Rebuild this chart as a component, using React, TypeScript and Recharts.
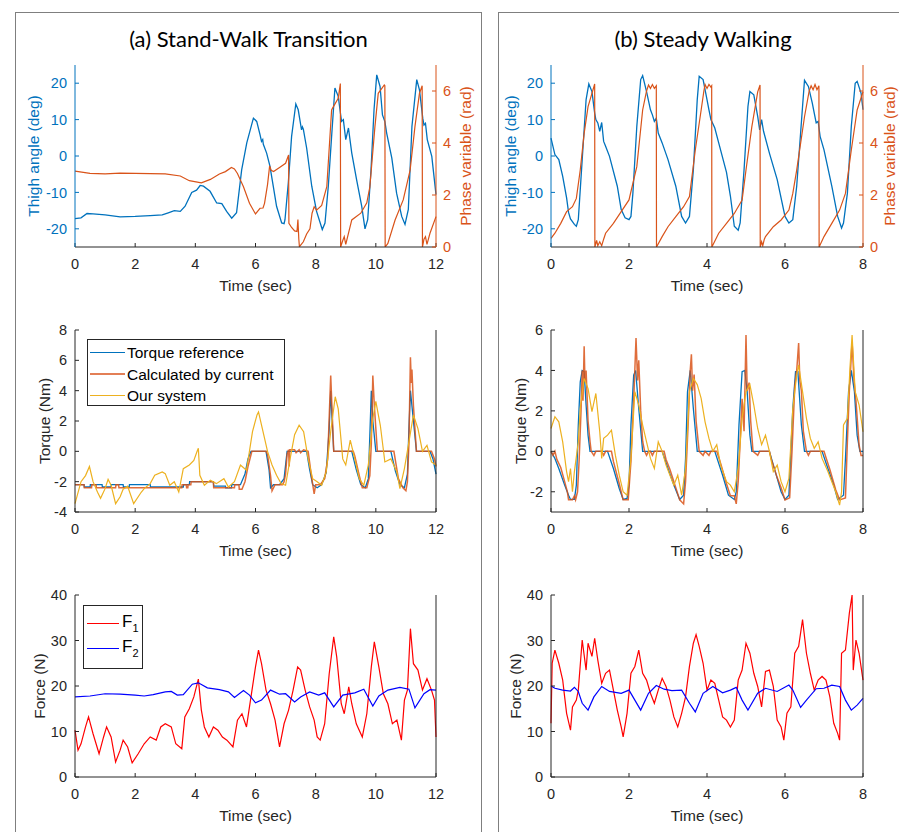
import React from 'react';
import { LineChart, Line, XAxis, YAxis, Legend, Label } from 'recharts';

type Pt = [number, number];

// ---------- (a) Stand-Walk Transition ----------
const A_THIGH: Pt[] = [[0,-17.2],[0.2,-17.0],[0.4,-15.8],[0.6,-15.9],[1.0,-16.2],[1.5,-16.7],[2.0,-16.6],[2.5,-16.4],[2.9,-16.2],[3.1,-15.6],[3.3,-15.0],[3.5,-15.2],[3.66,-13.8],[3.88,-10.0],[4.04,-9.4],[4.16,-8.1],[4.27,-8.3],[4.49,-9.7],[4.71,-12.9],[4.88,-13.1],[5.04,-15.2],[5.21,-17.1],[5.37,-15.6],[5.54,-3.8],[5.71,3.6],[5.93,10.4],[6.04,9.5],[6.15,5.9],[6.2,4.0],[6.24,4.5],[6.26,3.2],[6.37,0.8],[6.48,-2.8],[6.59,-8.3],[6.7,-13.8],[6.87,-18.4],[6.95,-18.6],[6.98,-17.5],[7.09,-7.4],[7.2,5.4],[7.34,14.3],[7.42,12.7],[7.53,7.2],[7.56,8.0],[7.59,7.4],[7.7,2.2],[7.87,-8.3],[8.03,-15.2],[8.22,-20.2],[8.31,-18.4],[8.42,-8.3],[8.53,5.4],[8.64,18.7],[8.75,16.4],[8.86,9.5],[8.92,10.0],[9.0,4.5],[9.09,7.7],[9.2,0.8],[9.36,-6.5],[9.53,-13.8],[9.64,-20.0],[9.73,-17.5],[9.84,-3.8],[9.94,12.7],[10.03,22.3],[10.14,19.1],[10.22,11.3],[10.3,9.5],[10.36,6.3],[10.53,-0.5],[10.69,-10.2],[10.86,-16.6],[10.97,-18.8],[11.08,-14.7],[11.2,8.1],[11.36,21.0],[11.45,18.2],[11.56,10.4],[11.6,8.5],[11.65,9.0],[11.71,4.5],[11.86,-0.1],[12,-10.6]];

const A_PHASE: Pt[] = [[0,2.92],[0.5,2.83],[1,2.81],[1.5,2.84],[2,2.83],[2.5,2.82],[3,2.81],[3.5,2.73],[3.8,2.55],[4.2,2.47],[4.5,2.6],[4.8,2.81],[5,2.9],[5.2,3.06],[5.3,3.0],[5.4,2.83],[5.6,2.32],[5.8,1.68],[6,1.27],[6.15,1.49],[6.25,1.5],[6.3,1.68],[6.4,2.4],[6.47,3.12],[6.52,2.95],[6.6,2.9],[6.8,3.06],[7,3.22],[7.1,3.54],[7.11,0.91],[7.2,0.75],[7.3,0.62],[7.38,0.6],[7.41,1.06],[7.44,0.3],[7.46,0.01],[7.59,0.2],[7.7,0.5],[7.81,0.7],[7.88,1.3],[7.95,1.55],[8.03,1.42],[8.2,1.6],[8.37,2.32],[8.53,5.27],[8.59,5.4],[8.75,5.72],[8.82,6.29],[8.83,0],[8.9,0.25],[8.95,0.4],[9.0,0.1],[9.2,1.04],[9.5,1.3],[9.7,1.7],[9.8,2.3],[9.97,4.63],[10.08,5.91],[10.2,6.1],[10.28,6.23],[10.3,6.2],[10.31,0],[10.4,0.14],[10.64,1.04],[10.91,1.81],[11.14,2.96],[11.3,4.63],[11.45,5.91],[11.54,6.2],[11.55,0],[11.6,0.3],[11.65,0.4],[11.7,0.1],[11.8,0.53],[12,1.17]];

const A_REF: Pt[] = [[0,-2.2],[0.3,-2.2],[0.31,-2.35],[0.5,-2.35],[0.51,-2.2],[0.9,-2.2],[0.91,-2.35],[1.2,-2.35],[1.21,-2.2],[1.6,-2.2],[1.61,-2.35],[1.8,-2.35],[1.81,-2.2],[2.5,-2.2],[2.51,-2.35],[3.6,-2.35],[3.61,-2.2],[3.8,-2.2],[3.81,-2.0],[4.6,-2.0],[4.61,-2.3],[5.0,-2.3],[5.01,-2.4],[5.2,-2.4],[5.21,-2.2],[5.5,-2.2],[5.65,-1.5],[5.75,-0.5],[5.85,0],[6.35,0],[6.45,-1.2],[6.5,-2.4],[6.6,-2.2],[6.8,-2.2],[6.95,-1.8],[7.05,0],[7.7,0],[7.8,-1.2],[7.9,-2.2],[8.05,-2.4],[8.2,-2.2],[8.35,-1.4],[8.45,1.5],[8.5,4.0],[8.55,2.0],[8.6,0],[9.2,0],[9.35,-1.2],[9.5,-2.2],[9.65,-2.4],[9.75,-1.8],[9.8,1.0],[9.85,4.0],[9.9,2.0],[10.0,0],[10.5,0],[10.65,-1.3],[10.8,-2.2],[10.95,-2.4],[11.05,-1.5],[11.1,1.5],[11.15,4.0],[11.25,2.0],[11.35,0],[11.8,0],[11.9,-0.5],[12,-1.5]];

const A_CUR: Pt[] = [[0,-2.2],[0.3,-2.2],[0.31,-2.4],[0.55,-2.4],[0.56,-2.2],[0.7,-2.2],[0.71,-2.4],[1.35,-2.4],[1.36,-2.2],[1.45,-2.2],[1.46,-2.4],[3.55,-2.4],[3.56,-2.2],[3.7,-2.2],[3.71,-2.4],[3.75,-2.4],[3.76,-2.2],[3.85,-2.2],[3.86,-2.0],[4.6,-2.0],[4.61,-2.4],[5.3,-2.4],[5.31,-2.2],[5.45,-2.2],[5.46,-2.5],[5.55,-2.5],[5.65,-2.0],[5.75,-1.0],[5.88,0],[6.35,0],[6.4,-0.2],[6.5,-1.6],[6.55,-2.6],[6.65,-2.2],[6.9,-2.2],[6.95,-2.0],[7.0,-1.5],[7.05,-0.2],[7.1,0.1],[7.12,-1.0],[7.14,0.1],[7.3,0.1],[7.35,-0.1],[7.45,0.1],[7.5,-0.1],[7.6,0.1],[7.75,0],[7.85,-1.5],[7.95,-2.8],[8.0,-2.2],[8.15,-2.2],[8.3,-1.8],[8.4,-0.5],[8.5,5.0],[8.55,2.5],[8.6,0],[9.25,0],[9.3,-0.3],[9.45,-1.6],[9.55,-2.4],[9.7,-2.4],[9.8,-1.6],[9.85,0.5],[9.9,5.0],[9.95,3.0],[10.05,0],[10.6,0],[10.75,-1.8],[10.9,-2.4],[11.0,-2.6],[11.05,-2.0],[11.1,0.5],[11.15,6.2],[11.18,4.5],[11.2,5.4],[11.25,3.0],[11.35,0],[11.85,0],[11.95,-0.5],[12,-1.0]];

const A_OUR: Pt[] = [[0,-3.45],[0.2,-2.0],[0.35,-1.6],[0.48,-1.0],[0.6,-2.0],[0.75,-2.7],[0.85,-3.1],[1.0,-2.46],[1.1,-1.85],[1.2,-2.24],[1.35,-3.45],[1.5,-3.0],[1.6,-2.5],[1.75,-2.3],[1.95,-3.45],[2.2,-2.7],[2.3,-2.46],[2.5,-2.13],[2.65,-1.58],[2.9,-1.36],[3.0,-1.47],[3.15,-2.24],[3.3,-2.0],[3.45,-2.68],[3.6,-1.14],[3.8,-0.9],[3.95,-0.6],[4.05,-0.04],[4.1,0.2],[4.15,-1.58],[4.3,-2.24],[4.5,-1.9],[4.7,-2.13],[4.95,-1.8],[5.1,-2.35],[5.3,-2.0],[5.5,-0.9],[5.7,-1.25],[5.9,1.3],[6.05,2.4],[6.1,2.6],[6.25,1.3],[6.4,0],[6.55,-0.9],[6.7,-1.58],[6.85,-2.13],[7.0,-2.24],[7.15,-0.5],[7.3,1.1],[7.45,1.72],[7.6,1.3],[7.75,-0.5],[7.9,-1.8],[8.05,-2.0],[8.2,-2.24],[8.35,-1.36],[8.5,1.3],[8.65,3.6],[8.75,2.8],[8.9,-0.5],[9.0,-0.9],[9.15,0.74],[9.3,-0.5],[9.45,-1.8],[9.6,-2.24],[9.75,-0.9],[9.9,2.16],[10.0,3.3],[10.15,1.7],[10.3,-0.7],[10.5,-0.5],[10.7,-1.36],[10.8,-2.46],[10.95,-1.14],[11.1,0.62],[11.25,2.4],[11.4,1.5],[11.55,0],[11.7,0.4],[11.85,-0.7],[12,-0.9]];

const A_F1: Pt[] = [[0,10.3],[0.1,5.9],[0.2,7.3],[0.35,11.0],[0.45,13.2],[0.6,9.5],[0.8,5.1],[0.95,8.8],[1.05,11.0],[1.2,8.8],[1.35,3.3],[1.5,5.9],[1.6,8.1],[1.75,6.6],[1.9,3.1],[2.1,5.1],[2.3,7.3],[2.5,8.8],[2.7,8.1],[2.85,11.0],[3.0,11.7],[3.2,11.0],[3.35,7.3],[3.55,6.2],[3.65,13.2],[3.8,15.0],[3.95,17.6],[4.1,21.5],[4.2,14.7],[4.3,11.0],[4.45,8.8],[4.6,11.0],[4.75,10.3],[4.9,8.8],[5.05,8.1],[5.25,6.6],[5.4,12.5],[5.55,13.9],[5.7,11.0],[5.85,17.6],[6.0,24.2],[6.1,27.9],[6.2,24.9],[6.35,19.1],[6.5,16.1],[6.65,12.5],[6.8,6.6],[6.95,11.7],[7.1,14.7],[7.25,19.1],[7.4,24.2],[7.5,23.5],[7.65,19.1],[7.8,15.4],[7.95,12.5],[8.05,8.8],[8.15,8.1],[8.3,11.7],[8.45,22.7],[8.6,30.8],[8.7,26.4],[8.85,16.1],[8.95,13.9],[9.1,19.8],[9.2,16.1],[9.35,11.7],[9.55,8.8],[9.7,13.9],[9.85,24.2],[9.95,29.7],[10.1,24.2],[10.25,18.3],[10.4,16.1],[10.55,11.7],[10.7,12.5],[10.85,8.1],[10.95,16.9],[11.05,19.1],[11.15,32.6],[11.25,24.9],[11.4,23.5],[11.55,19.1],[11.7,21.6],[11.85,19.1],[11.95,16.9],[12,8.8]];

const A_F2: Pt[] = [[0,17.6],[0.5,17.8],[1.0,18.3],[1.5,18.2],[2.0,18.0],[2.3,17.8],[2.6,18.1],[3.0,18.7],[3.2,18.8],[3.4,18.0],[3.6,18.1],[3.9,20.4],[4.1,20.7],[4.4,19.6],[4.8,19.2],[5.1,18.7],[5.3,17.5],[5.6,19.0],[5.8,18.0],[6.0,16.3],[6.2,16.9],[6.5,19.1],[6.8,18.2],[7.0,18.3],[7.3,16.5],[7.5,17.6],[7.8,18.7],[8.1,18.0],[8.3,18.5],[8.6,15.4],[8.9,18.0],[9.3,18.5],[9.6,19.3],[9.9,15.6],[10.1,17.8],[10.4,19.1],[10.8,19.7],[11.1,19.3],[11.3,15.2],[11.6,18.3],[11.8,19.2],[12,19.1]];

// ---------- (b) Steady Walking ----------
const B_THIGH: Pt[] = [[0,4.9],[0.1,0.4],[0.2,-1.0],[0.3,-5.6],[0.4,-11.5],[0.45,-15.5],[0.5,-17.3],[0.6,-18.8],[0.65,-19.3],[0.7,-17.5],[0.8,-1.0],[0.9,15.5],[0.97,19.8],[1.05,17.7],[1.12,11.8],[1.15,10.0],[1.2,9.1],[1.25,6.8],[1.3,9.2],[1.35,4.0],[1.4,2.7],[1.5,-0.1],[1.7,-8.3],[1.8,-14.7],[1.9,-17.0],[2.0,-17.5],[2.05,-16.6],[2.1,-10.2],[2.2,8.1],[2.3,21.0],[2.35,22.1],[2.45,17.7],[2.55,12.7],[2.6,11.3],[2.65,9.5],[2.7,10.4],[2.75,6.3],[2.85,3.6],[3.0,-1.0],[3.2,-8.3],[3.35,-16.6],[3.45,-18.4],[3.55,-16.6],[3.65,-3.8],[3.75,15.5],[3.8,21.9],[3.9,21.0],[4.0,15.5],[4.05,12.7],[4.1,10.0],[4.2,7.7],[4.3,3.6],[4.5,-4.5],[4.6,-11.0],[4.7,-19.3],[4.8,-20.4],[4.85,-18.4],[4.95,-3.8],[5.05,13.6],[5.1,17.7],[5.2,16.8],[5.3,10.9],[5.35,7.2],[5.4,10.0],[5.45,6.8],[5.6,0.8],[5.8,-6.5],[6.0,-16.6],[6.1,-18.4],[6.2,-17.5],[6.3,-8.3],[6.45,13.6],[6.5,20.8],[6.6,19.1],[6.7,14.5],[6.75,11.8],[6.8,9.1],[6.85,9.5],[6.9,5.4],[7.0,1.7],[7.2,-8.3],[7.35,-16.6],[7.45,-19.8],[7.5,-18.4],[7.6,-10.2],[7.7,8.1],[7.8,20.0],[7.85,20.5],[7.95,17.3],[8.0,12.7]];

const B_PHASE: Pt[] = [[0,0.33],[0.1,0.53],[0.25,0.91],[0.4,1.36],[0.55,1.55],[0.65,1.87],[0.75,2.96],[0.85,4.37],[0.95,5.4],[1.05,5.91],[1.12,6.27],[1.125,0],[1.17,0.25],[1.2,0.05],[1.25,0.2],[1.3,0.05],[1.35,0.3],[1.4,0.53],[1.6,0.91],[1.8,1.36],[2.0,1.81],[2.2,3.09],[2.35,5.27],[2.45,6.0],[2.5,6.23],[2.55,6.1],[2.6,6.25],[2.65,6.1],[2.7,6.2],[2.705,0],[2.85,0.4],[3.0,0.78],[3.2,1.17],[3.4,1.55],[3.55,1.94],[3.7,3.73],[3.85,5.27],[3.92,6.0],[3.95,6.25],[4.0,6.1],[4.05,6.25],[4.1,6.15],[4.12,6.2],[4.125,0],[4.3,0.53],[4.5,0.91],[4.7,1.29],[4.9,1.81],[5.0,2.96],[5.15,4.63],[5.3,5.97],[5.36,6.23],[5.365,0],[5.4,0.2],[5.43,0.05],[5.47,0.3],[5.5,0.4],[5.7,0.78],[5.9,1.04],[6.1,1.42],[6.2,2.06],[6.3,2.96],[6.5,5.01],[6.62,6.0],[6.67,6.2],[6.72,6.05],[6.77,6.25],[6.82,6.05],[6.87,6.2],[6.875,0],[7.0,0.4],[7.2,0.91],[7.4,1.42],[7.55,2.06],[7.7,3.73],[7.85,5.27],[8.0,5.97]];

const B_REF: Pt[] = [[0,0],[0.1,-0.35],[0.2,-0.85],[0.35,-1.67],[0.45,-2.17],[0.5,-2.38],[0.6,-2.38],[0.65,-1.67],[0.7,1.3],[0.75,3.44],[0.8,4.0],[0.85,3.94],[0.9,2.29],[0.95,0.8],[1.0,0],[1.45,0],[1.6,-0.85],[1.75,-1.84],[1.85,-2.38],[1.95,-2.33],[2.0,-1.67],[2.05,1.3],[2.12,3.77],[2.17,4.0],[2.25,2.12],[2.35,0],[2.85,0],[3.0,-0.85],[3.15,-1.67],[3.3,-2.38],[3.4,-2.17],[3.45,-0.35],[3.5,2.95],[3.57,4.0],[3.65,2.12],[3.75,0],[4.2,0],[4.4,-1.18],[4.55,-2.17],[4.7,-2.38],[4.75,-2.0],[4.82,1.3],[4.9,3.94],[4.97,4.0],[5.03,2.95],[5.1,0.8],[5.15,0],[5.6,0],[5.75,-1.0],[5.9,-2.0],[6.0,-2.38],[6.1,-2.17],[6.2,2.12],[6.27,3.94],[6.33,3.94],[6.42,1.3],[6.5,0],[6.95,0],[7.1,-0.85],[7.25,-1.67],[7.35,-2.38],[7.5,-2.17],[7.55,-0.35],[7.63,2.95],[7.7,4.0],[7.78,2.95],[7.85,0.8],[7.92,0],[8.0,0]];

const B_CUR: Pt[] = [[0,0],[0.05,-0.2],[0.1,0],[0.15,-0.4],[0.25,-0.8],[0.35,-1.5],[0.42,-2.0],[0.45,-2.4],[0.55,-2.4],[0.6,-2.2],[0.63,-2.4],[0.68,-2.0],[0.72,-0.5],[0.77,2.0],[0.8,4.0],[0.82,2.5],[0.85,5.2],[0.87,3.5],[0.9,4.0],[0.95,1.5],[1.0,0.5],[1.03,0],[1.1,-0.2],[1.15,0],[1.3,0],[1.35,-0.2],[1.4,0],[1.55,0],[1.6,-0.5],[1.75,-1.6],[1.85,-2.4],[1.98,-2.4],[2.05,-0.5],[2.12,2.5],[2.18,5.6],[2.22,3.5],[2.25,4.5],[2.3,2.0],[2.35,0.5],[2.4,0],[2.45,-0.2],[2.5,0],[2.55,0],[2.6,-0.2],[2.65,0],[2.9,0],[2.95,-0.4],[3.05,-0.9],[3.2,-1.8],[3.3,-2.4],[3.4,-2.6],[3.45,-1.5],[3.52,1.5],[3.57,4.0],[3.6,4.8],[3.63,3.0],[3.67,3.8],[3.72,1.5],[3.8,0],[3.9,-0.2],[3.95,0],[4.05,-0.2],[4.1,0],[4.25,0],[4.35,-0.6],[4.5,-1.6],[4.6,-2.2],[4.7,-2.2],[4.75,-2.6],[4.8,-1.5],[4.85,0.5],[4.9,2.6],[4.95,1.0],[5.0,5.75],[5.03,3.0],[5.08,3.4],[5.12,1.5],[5.18,0],[5.3,-0.2],[5.35,0],[5.6,0],[5.65,-0.4],[5.8,-1.3],[5.9,-1.8],[6.0,-2.4],[6.12,-2.3],[6.18,0],[6.25,3.2],[6.3,4.0],[6.35,5.35],[6.38,3.5],[6.42,3.0],[6.47,1.0],[6.55,0],[6.6,-0.2],[6.65,0],[7.0,0],[7.05,-0.3],[7.15,-0.9],[7.3,-1.9],[7.4,-2.4],[7.55,-2.3],[7.6,0.5],[7.65,3.0],[7.72,5.4],[7.77,3.5],[7.82,2.5],[7.9,0.3],[7.95,-0.2],[8.0,-0.2]];

const B_OUR: Pt[] = [[0,1.13],[0.1,1.71],[0.2,1.46],[0.3,0.47],[0.4,-1.0],[0.45,-1.5],[0.5,-0.85],[0.55,-2.0],[0.6,-1.0],[0.7,0.47],[0.75,2.12],[0.85,3.6],[0.95,3.1],[1.05,1.96],[1.15,2.86],[1.25,0.97],[1.3,-0.35],[1.35,0.64],[1.45,0.8],[1.55,1.05],[1.65,-0.19],[1.75,-1.18],[1.85,-2.0],[1.95,-2.17],[2.05,-0.35],[2.15,2.95],[2.25,2.29],[2.35,1.3],[2.45,0.47],[2.55,-0.35],[2.65,-0.85],[2.75,0.47],[2.85,0],[2.95,-0.68],[3.05,-1.18],[3.15,-1.67],[3.25,-1.18],[3.35,-2.17],[3.45,-0.85],[3.55,2.95],[3.65,3.6],[3.75,3.3],[3.85,2.62],[3.95,1.46],[4.05,0.64],[4.15,0],[4.25,0.33],[4.35,-0.68],[4.5,-1.5],[4.6,-1.67],[4.7,-2.0],[4.8,-0.85],[4.9,1.63],[5.0,2.95],[5.1,3.3],[5.2,2.29],[5.3,1.13],[5.4,0.33],[5.5,0.8],[5.6,0],[5.7,-1.0],[5.8,-0.68],[5.9,-1.5],[6.0,-2.0],[6.1,-1.34],[6.2,2.12],[6.3,3.77],[6.35,4.27],[6.45,2.95],[6.55,1.63],[6.65,0.64],[6.75,0.15],[6.85,0.47],[6.95,-0.35],[7.1,-1.0],[7.2,-1.5],[7.3,-2.0],[7.4,-2.66],[7.45,-2.0],[7.5,1.3],[7.6,1.63],[7.67,4.27],[7.72,5.75],[7.8,2.95],[7.9,2.29],[8.0,0.97]];

const B_F1: Pt[] = [[0,11.8],[0.03,25.0],[0.1,27.9],[0.2,25.0],[0.3,21.3],[0.35,17.6],[0.4,14.0],[0.5,10.3],[0.55,15.4],[0.65,16.9],[0.7,19.1],[0.8,30.1],[0.9,23.5],[0.95,29.4],[1.05,26.5],[1.12,30.5],[1.2,25.7],[1.3,20.6],[1.4,22.8],[1.5,23.5],[1.6,19.1],[1.7,14.7],[1.8,11.0],[1.85,8.8],[1.95,14.0],[2.05,22.8],[2.15,24.3],[2.25,27.9],[2.35,22.8],[2.45,21.3],[2.55,18.4],[2.65,16.2],[2.75,19.1],[2.85,21.7],[2.95,19.9],[3.05,16.9],[3.15,13.2],[3.25,11.0],[3.35,14.0],[3.45,17.6],[3.55,24.3],[3.65,29.4],[3.72,31.3],[3.8,28.7],[3.9,25.0],[4.0,19.1],[4.1,21.3],[4.2,20.6],[4.3,16.9],[4.4,13.2],[4.5,12.5],[4.6,11.0],[4.7,12.5],[4.8,21.3],[4.9,23.5],[5.0,29.4],[5.1,27.2],[5.2,22.8],[5.3,19.9],[5.4,15.4],[5.5,23.2],[5.6,23.5],[5.7,19.9],[5.8,12.5],[5.9,11.0],[5.97,8.1],[6.05,14.0],[6.15,15.4],[6.25,27.2],[6.35,28.7],[6.45,34.6],[6.55,27.2],[6.65,22.8],[6.75,19.1],[6.85,21.3],[6.95,22.1],[7.05,21.3],[7.15,17.6],[7.25,11.8],[7.35,9.6],[7.4,8.1],[7.45,27.2],[7.55,27.9],[7.65,36.0],[7.72,40.0],[7.75,23.5],[7.82,30.1],[7.9,27.2],[8.0,21.3]];

const B_F2: Pt[] = [[0,20.0],[0.1,19.5],[0.3,19.1],[0.5,18.9],[0.6,19.7],[0.7,18.8],[0.8,16.2],[0.95,14.7],[1.1,17.6],[1.3,19.9],[1.5,18.8],[1.8,18.4],[2.0,19.1],[2.15,16.9],[2.3,14.7],[2.5,18.4],[2.7,20.1],[2.9,19.3],[3.1,19.0],[3.35,19.1],[3.55,16.2],[3.7,14.3],[3.9,18.4],[4.15,19.9],[4.4,18.5],[4.6,19.1],[4.75,19.7],[4.9,16.9],[5.05,14.7],[5.3,18.4],[5.5,19.5],[5.8,18.8],[6.1,20.2],[6.2,19.1],[6.4,15.3],[6.55,16.9],[6.8,19.4],[7.0,19.5],[7.2,20.2],[7.4,19.9],[7.55,16.9],[7.7,14.7],[7.85,15.8],[8.0,17.3]];

// ---------- axis ticks ----------
const X_TICKS_A = [0, 2, 4, 6, 8, 10, 12];
const X_TICKS_B = [0, 2, 4, 6, 8];
const THIGH_TICKS = [-20, -10, 0, 10, 20];
const PHASE_TICKS = [0, 2, 4, 6];
const TORQUE_TICKS_A = [-4, -2, 0, 2, 4, 6, 8];
const TORQUE_TICKS_B = [-2, 0, 2, 4, 6];
const FORCE_TICKS = [0, 10, 20, 30, 40];

const rows = (pts: Pt[]) => pts.map(([t, v]) => ({ t, v }));

const FONT = '"Liberation Sans", Arial, Helvetica, sans-serif';
const AX = '#262626';
const BLUE = '#0072BD';
const ORANGE = '#D95319';
const YELLOW = '#EDB120';
const RED = '#FF0000';
const PBLUE = '#0000FF';

type Series = { pts: Pt[]; color: string; width?: number; axis?: 'l' | 'r'; opacity?: number };

type PanelProps = {
  plotLeft: number; plotTop: number; plotW: number; plotH: number;
  xMax: number; xTicks: number[];
  yDomain: [number, number]; yTicks: number[]; yLabel: string; yLabelOff: number; yColor?: string;
  rDomain?: [number, number]; rTicks?: number[]; rLabel?: string; rColor?: string; rLabelOff?: number;
  series: Series[];
  legend?: React.ReactNode; legendPos?: { left: number; top: number };
};

const MT = 12;

function Panel(p: PanelProps) {
  const LW = 60, BH = 54;
  const dual = !!p.rLabel;
  const RW = dual ? 50 : 8;
  const W = LW + p.plotW + RW;
  const H = MT + p.plotH + BH;
  const yColor = p.yColor ?? AX;
  const rColor = p.rColor ?? AX;
  const cx = LW + p.plotW / 2;
  const cy = MT + p.plotH / 2;
  const tickStyle = { fontSize: 14.5, fontFamily: FONT };
  const rDomain = p.rDomain ?? p.yDomain;
  const rTicks = p.rTicks ?? p.yTicks;
  const rx = LW + p.plotW + (p.rLabelOff ?? 29.5);
  return (
    <div style={{ position: 'absolute', left: p.plotLeft - LW, top: p.plotTop - MT }}>
      <LineChart width={W} height={H} margin={{ top: MT, right: 0, bottom: 0, left: 0 }}>
        <XAxis xAxisId="b" type="number" dataKey="t" domain={[0, p.xMax]} ticks={p.xTicks} interval={0}
          height={BH} tickSize={-4} tickMargin={16} stroke={AX}
          axisLine={{ stroke: AX }} tickLine={{ stroke: AX }} tick={{ ...tickStyle, fill: AX }}>
          <Label content={() => (
            <text x={cx} y={MT + p.plotH + 38} textAnchor="middle" dominantBaseline="central"
              fontSize={15.5} fontFamily={FONT} fill={AX}>Time (sec)</text>
          )} />
        </XAxis>
        <XAxis xAxisId="top" orientation="top" type="number" dataKey="t" domain={[0, p.xMax]} ticks={p.xTicks}
          interval={0} height={0} tickSize={-4} tick={false} stroke={AX}
          axisLine={{ stroke: AX }} tickLine={{ stroke: AX }} />
        <YAxis yAxisId="l" type="number" domain={p.yDomain} ticks={p.yTicks} interval={0} width={LW}
          tickSize={-4} tickMargin={12} stroke={yColor} axisLine={{ stroke: yColor }} tickLine={{ stroke: yColor }}
          tick={{ ...tickStyle, fill: yColor }} allowDataOverflow>
          <Label content={() => (
            <text x={LW - p.yLabelOff} y={cy} textAnchor="middle" dominantBaseline="central"
              transform={`rotate(-90 ${LW - p.yLabelOff} ${cy})`}
              fontSize={15.5} fontFamily={FONT} fill={yColor}>{p.yLabel}</text>
          )} />
        </YAxis>
        <YAxis yAxisId="r" orientation="right" type="number" domain={rDomain} ticks={rTicks} interval={0} width={RW}
          tickSize={-4} tickMargin={11} stroke={rColor} axisLine={{ stroke: rColor }} tickLine={{ stroke: rColor }}
          tick={dual ? { ...tickStyle, fill: rColor } : false} allowDataOverflow>
          {dual && (
            <Label content={() => (
              <text x={rx} y={cy} textAnchor="middle" dominantBaseline="central"
                transform={`rotate(-90 ${rx} ${cy})`}
                fontSize={15.5} fontFamily={FONT} fill={rColor}>{p.rLabel}</text>
            )} />
          )}
        </YAxis>
        {p.series.map((s, i) => (
          <Line key={i} data={rows(s.pts)} dataKey="v" xAxisId="b" yAxisId={s.axis ?? 'l'} type="linear"
            stroke={s.color} strokeWidth={s.width ?? 1.2} strokeOpacity={s.opacity ?? 1}
            dot={false} activeDot={false} isAnimationActive={false} />
        ))}
        {p.legend && (
          <Legend layout="vertical" align="center" verticalAlign="middle"
            wrapperStyle={{ left: p.legendPos!.left, top: p.legendPos!.top, width: 'auto', height: 'auto', margin: 0 }}
            content={() => p.legend} />
        )}
      </LineChart>
    </div>
  );
}

const torqueLegendRow = (color: string, w: number, text: string, op = 1) => (
  <div style={{ display: 'flex', alignItems: 'center', height: 21.5 }}>
    <div style={{ width: 35, height: 0, borderTop: `${w}px solid ${color}`, opacity: op, marginLeft: 2, marginRight: 2 }} />
    <span style={{ whiteSpace: 'nowrap' }}>{text}</span>
  </div>
);

const TorqueLegend = (
  <div style={{ boxSizing: 'border-box', width: 198, height: 67, border: `1px solid ${AX}`, background: '#fff',
    paddingTop: 2, fontFamily: FONT, fontSize: 15.5, color: '#000', lineHeight: 1 }}>
    {torqueLegendRow(BLUE, 1.5, 'Torque reference')}
    {torqueLegendRow('#E37F56', 2.5, 'Calculated by current')}
    {torqueLegendRow(YELLOW, 1.5, 'Our system')}
  </div>
);

const forceLegendRow = (color: string, sub: string) => (
  <div style={{ display: 'flex', alignItems: 'center', height: 25 }}>
    <div style={{ width: 32, height: 0, borderTop: `1.5px solid ${color}`, marginLeft: 3, marginRight: 3 }} />
    <span style={{ whiteSpace: 'nowrap' }}>F<sub style={{ fontSize: 11, verticalAlign: -5 }}>{sub}</sub></span>
  </div>
);

const ForceLegend = (
  <div style={{ boxSizing: 'border-box', width: 60, height: 64, border: `1px solid ${AX}`, background: '#fff',
    paddingTop: 5, fontFamily: FONT, fontSize: 17, color: '#000', lineHeight: 1 }}>
    {forceLegendRow(RED, '1')}
    {forceLegendRow(PBLUE, '2')}
  </div>
);

const TITLE_FONT = 'Lato, "Open Sans", sans-serif';

export default function App() {
  const AL = 75, AW = 361, BL = 551, BW = 312, PH = 182;
  return (
    <div style={{ position: 'absolute', left: 0, top: 0, width: 899, height: 832, overflow: 'hidden', background: '#fff' }}>
      <div style={{ position: 'absolute', left: 15, top: 12, width: 467, height: 900, border: '1.5px solid #7f7f7f', boxSizing: 'border-box' }} />
      <div style={{ position: 'absolute', left: 498, top: 12, width: 600, height: 900, border: '1.5px solid #7f7f7f', boxSizing: 'border-box' }} />
      <div style={{ position: 'absolute', left: 15, width: 467, top: 25, textAlign: 'center', fontFamily: TITLE_FONT, fontSize: 22, color: '#000' }}>(a) Stand-Walk Transition</div>
      <div style={{ position: 'absolute', left: 498, width: 410, top: 25, textAlign: 'center', fontFamily: TITLE_FONT, fontSize: 22, color: '#000' }}>(b) Steady Walking</div>

      <Panel plotLeft={AL} plotTop={65} plotW={AW} plotH={PH} xMax={12} xTicks={X_TICKS_A}
        yDomain={[-25, 25]} yTicks={THIGH_TICKS} yLabel="Thigh angle (deg)" yLabelOff={41.5} yColor={BLUE}
        rDomain={[0, 7]} rTicks={PHASE_TICKS} rLabel="Phase variable (rad)" rColor={ORANGE} rLabelOff={29.5}
        series={[{ pts: A_THIGH, color: BLUE, width: 1.3 }, { pts: A_PHASE, color: ORANGE, width: 1.2, axis: 'r' }]} />
      <Panel plotLeft={BL} plotTop={65} plotW={BW} plotH={PH} xMax={8} xTicks={X_TICKS_B}
        yDomain={[-25, 25]} yTicks={THIGH_TICKS} yLabel="Thigh angle (deg)" yLabelOff={41} yColor={BLUE}
        rDomain={[0, 7]} rTicks={PHASE_TICKS} rLabel="Phase variable (rad)" rColor={ORANGE} rLabelOff={26}
        series={[{ pts: B_THIGH, color: BLUE, width: 1.3 }, { pts: B_PHASE, color: ORANGE, width: 1.2, axis: 'r' }]} />

      <Panel plotLeft={AL} plotTop={330} plotW={AW} plotH={PH} xMax={12} xTicks={X_TICKS_A}
        yDomain={[-4, 8]} yTicks={TORQUE_TICKS_A} yLabel="Torque (Nm)" yLabelOff={31}
        series={[{ pts: A_REF, color: BLUE, width: 1.3 }, { pts: A_CUR, color: ORANGE, width: 1.5, opacity: 0.85 }, { pts: A_OUR, color: YELLOW, width: 1.2 }]}
        legend={TorqueLegend} legendPos={{ left: 72, top: 9 + MT }} />
      <Panel plotLeft={BL} plotTop={330} plotW={BW} plotH={PH} xMax={8} xTicks={X_TICKS_B}
        yDomain={[-3, 6]} yTicks={TORQUE_TICKS_B} yLabel="Torque (Nm)" yLabelOff={31}
        series={[{ pts: B_REF, color: BLUE, width: 1.3 }, { pts: B_CUR, color: ORANGE, width: 1.5, opacity: 0.85 }, { pts: B_OUR, color: YELLOW, width: 1.2 }]} />

      <Panel plotLeft={AL} plotTop={595} plotW={AW} plotH={PH} xMax={12} xTicks={X_TICKS_A}
        yDomain={[0, 40]} yTicks={FORCE_TICKS} yLabel="Force (N)" yLabelOff={35.5}
        series={[{ pts: A_F1, color: RED, width: 1.2 }, { pts: A_F2, color: PBLUE, width: 1.2 }]}
        legend={ForceLegend} legendPos={{ left: 68, top: 10 + MT }} />
      <Panel plotLeft={BL} plotTop={595} plotW={BW} plotH={PH} xMax={8} xTicks={X_TICKS_B}
        yDomain={[0, 40]} yTicks={FORCE_TICKS} yLabel="Force (N)" yLabelOff={36}
        series={[{ pts: B_F1, color: RED, width: 1.2 }, { pts: B_F2, color: PBLUE, width: 1.2 }]} />
    </div>
  );
}
